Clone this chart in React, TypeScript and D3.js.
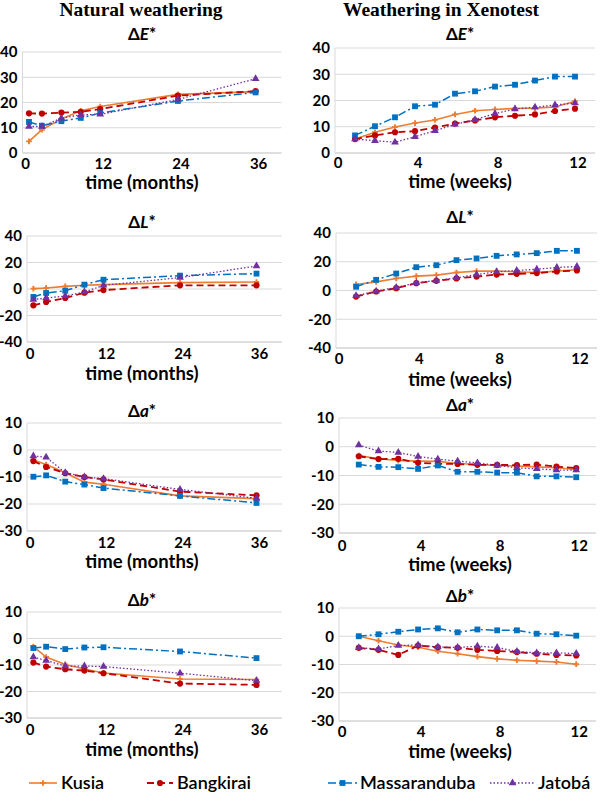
import React from "react";
import * as d3 from "d3";

const seriesNames = ["Kusia", "Bangkirai", "Massaranduba", "Jatobá"];
const months = [1, 3, 6, 9, 12, 24, 36];
const weeks = [1, 2, 3, 4, 5, 6, 7, 8, 9, 10, 11, 12];
const monthTicks = [0, 12, 24, 36];
const weekTicks = [0, 4, 8, 12];
const ticksE = [0, 10, 20, 30, 40];
const ticksL = [-40, -20, 0, 20, 40];
const ticksAB = [-30, -20, -10, 0, 10];

// row order: Kusia, Bangkirai, Massaranduba, Jatobá
const natE = [
  [4.6, 9.2, 13.5, 16.7, 18.4, 23.2, 24.3],
  [15.7, 15.6, 16.0, 16.3, 17.4, 22.7, 24.5],
  [12.3, 10.8, 12.6, 13.9, 15.8, 20.6, 24.0],
  [10.5, 10.5, 13.8, 15.1, 15.3, 21.2, 29.4],
];
const xenoE = [
  [5.3, 7.9, 9.9, 11.4, 12.6, 14.7, 16.1, 16.6, 17.0, 17.1, 17.5, 19.7],
  [5.3, 6.7, 7.9, 8.3, 9.7, 11.2, 12.4, 13.6, 14.2, 14.7, 16.0, 16.9],
  [6.7, 10.2, 13.6, 17.8, 18.4, 22.6, 23.5, 25.3, 26.0, 27.6, 29.1, 29.1],
  [5.3, 4.7, 4.1, 6.2, 8.5, 10.9, 12.7, 15.0, 16.8, 17.4, 18.3, 19.0],
];
const natL = [
  [0.3, 0.8, 2.0, 2.8, 3.3, 4.8, 5.3],
  [-12.3, -9.8, -6.8, -2.8, -0.8, 2.8, 2.8],
  [-6.0, -3.0, -1.3, 3.3, 7.0, 10.1, 11.6],
  [-8.0, -6.8, -5.3, -2.3, 2.8, 8.6, 17.4],
];
const xenoL = [
  [4.2, 6.0, 8.4, 10.0, 10.7, 12.5, 13.5, 13.5, 13.0, 12.5, 13.5, 14.4],
  [-4.2, -0.7, 1.6, 5.1, 6.7, 8.4, 9.7, 11.1, 11.6, 12.1, 13.2, 13.9],
  [2.6, 7.4, 11.8, 16.2, 17.6, 21.1, 22.3, 24.1, 25.1, 26.0, 27.6, 27.6],
  [-3.7, -0.5, 2.1, 5.3, 7.0, 8.8, 11.1, 13.0, 13.9, 14.8, 16.0, 16.7],
];
const natA = [
  [-3.7, -5.4, -8.4, -11.9, -12.7, -17.0, -18.0],
  [-4.1, -6.3, -8.6, -10.0, -10.9, -15.4, -16.8],
  [-9.9, -9.4, -11.7, -12.8, -14.1, -17.0, -19.6],
  [-2.2, -2.7, -8.4, -10.0, -10.6, -14.6, -17.9],
];
const xenoA = [
  [-3.1, -4.2, -4.8, -5.0, -5.1, -5.8, -6.2, -6.5, -6.7, -7.0, -7.3, -7.9],
  [-3.3, -4.3, -4.2, -5.6, -5.9, -6.0, -6.3, -6.3, -6.4, -6.2, -6.9, -7.4],
  [-6.2, -7.0, -7.1, -7.7, -6.5, -8.7, -8.7, -9.0, -9.0, -10.3, -10.3, -10.6],
  [0.6, -1.5, -2.0, -3.4, -4.3, -5.0, -5.6, -6.5, -7.3, -7.7, -8.1, -8.1],
];
const natB = [
  [-3.1, -7.0, -9.8, -11.5, -13.0, -15.3, -15.5],
  [-9.1, -10.6, -11.6, -12.1, -13.1, -17.0, -17.5],
  [-3.6, -3.1, -4.0, -3.4, -3.3, -4.9, -7.4],
  [-7.0, -8.3, -10.4, -10.4, -10.6, -13.1, -15.9],
];
const xenoB = [
  [0.0, -1.6, -3.1, -3.9, -5.3, -6.2, -7.2, -8.0, -8.5, -8.8, -9.1, -9.9],
  [-4.1, -4.8, -6.6, -3.3, -3.9, -4.1, -4.8, -5.2, -5.6, -6.2, -6.6, -6.8],
  [0.0, 0.7, 1.6, 2.4, 2.8, 1.4, 2.4, 2.1, 2.1, 0.9, 0.7, 0.2],
  [-4.1, -4.5, -3.3, -3.1, -3.8, -4.0, -3.5, -4.0, -5.4, -5.9, -5.9, -6.1],
];

const styles = [
  { color: "#ED7D31", dash: "", width: 1.6, marker: d3.symbolCross, size: 18 },
  { color: "#C00000", dash: "7 4", width: 1.8, marker: d3.symbolCircle, size: 30 },
  { color: "#0070C0", dash: "8 3 2 3", width: 1.5, marker: d3.symbolSquare, size: 34 },
  { color: "#7030A0", dash: "1.5 2", width: 1.3, marker: d3.symbolTriangle, size: 26 },
];

const FONT = "Lato, 'Open Sans', sans-serif";

// plot boxes (pixels) per panel
const panels = [
  { letter: "E", values: natE, natural: true, yTicks: ticksE, left: 22.5, right: 281.5, top: 52, bottom: 153, titleY: 40, tickY: 169, labelY: 189 },
  { letter: "E", values: xenoE, natural: false, yTicks: ticksE, left: 335, right: 595, top: 48, bottom: 153, titleY: 40, tickY: 168, labelY: 188 },
  { letter: "L", values: natL, natural: true, yTicks: ticksL, left: 27, right: 282, top: 236, bottom: 342, titleY: 228, tickY: 359, labelY: 380 },
  { letter: "L", values: xenoL, natural: false, yTicks: ticksL, left: 336, right: 597, top: 233, bottom: 348, titleY: 223, tickY: 364, labelY: 386 },
  { letter: "a", values: natA, natural: true, yTicks: ticksAB, left: 27, right: 282, top: 423, bottom: 531, titleY: 417, tickY: 548, labelY: 568 },
  { letter: "a", values: xenoA, natural: false, yTicks: ticksAB, left: 339, right: 596, top: 418, bottom: 533, titleY: 411, tickY: 551, labelY: 571 },
  { letter: "b", values: natB, natural: true, yTicks: ticksAB, left: 27, right: 282, top: 612, bottom: 718, titleY: 606, tickY: 735, labelY: 756 },
  { letter: "b", values: xenoB, natural: false, yTicks: ticksAB, left: 339, right: 596, top: 608, bottom: 721, titleY: 602, tickY: 737, labelY: 758 },
];

const ChartPanel = ({ p }: { p: (typeof panels)[number] }) => {
  const xs = p.natural ? months : weeks;
  const x = d3
    .scaleLinear()
    .domain(p.natural ? [0, 40] : [0, 13])
    .range([p.left, p.right]);
  const y = d3
    .scaleLinear()
    .domain(d3.extent(p.yTicks) as [number, number])
    .range([p.bottom, p.top]);
  const xTicks = p.natural ? monthTicks : weekTicks;
  const titleX = p.natural ? 142 : 460;
  const line = d3
    .line<number>()
    .x((_, i) => x(xs[i]))
    .y((d) => y(d));
  const [x0, x1] = x.range();

  return (
    <g>
      <text x={titleX} y={p.titleY} textAnchor="middle" fontFamily={FONT} fontWeight="bold" fontSize={17}>
        Δ<tspan fontStyle="italic">{p.letter}</tspan>*
      </text>
      {p.yTicks.map((t, i) => (
        <g key={t}>
          <line
            x1={x0}
            x2={x1}
            y1={y(t)}
            y2={y(t)}
            stroke={i === 0 ? "#bfbfbf" : "#d9d9d9"}
            strokeWidth={1}
          />
          <text x={x0 - 5} y={y(t)} dy="0.36em" textAnchor="end" fontFamily={FONT} fontWeight="bold" fontSize={15}>
            {t}
          </text>
        </g>
      ))}
      <line x1={x0} x2={x0} y1={p.top} y2={p.bottom} stroke="#d9d9d9" />
      {xTicks.map((t) => (
        <text key={t} x={x(t) + 3} y={p.tickY} textAnchor="middle" fontFamily={FONT} fontWeight="bold" fontSize={15}>
          {t}
        </text>
      ))}
      <text x={titleX} y={p.labelY} textAnchor="middle" fontFamily={FONT} fontWeight="bold" fontSize={18.5}>
        {p.natural ? "time (months)" : "time (weeks)"}
      </text>
      {p.values.map((vals, s) => {
        const st = styles[s];
        const sym = d3.symbol().type(st.marker).size(st.size)();
        return (
          <g key={s}>
            <path
              d={line(vals) || ""}
              fill="none"
              stroke={st.color}
              strokeWidth={st.width}
              strokeDasharray={st.dash || undefined}
            />
            {vals.map((v, i) => (
              <path key={i} d={sym || ""} transform={`translate(${x(xs[i])},${y(v)})`} fill={st.color} />
            ))}
          </g>
        );
      })}
    </g>
  );
};

const legendItems = [
  { x1: 29, x2: 57, tx: 61 },
  { x1: 147, x2: 173, tx: 177 },
  { x1: 328, x2: 357, tx: 360 },
  { x1: 490, x2: 535, tx: 538 },
];

export default function App() {
  return (
    <svg
      width={600}
      height={792}
      style={{ position: "absolute", left: 0, top: 0, background: "#fff" }}
    >
      <text x={141} y={16} textAnchor="middle" fontFamily="'Liberation Serif', serif" fontWeight="bold" fontSize={19.5}>
        Natural weathering
      </text>
      <text x={441} y={16} textAnchor="middle" fontFamily="'Liberation Serif', serif" fontWeight="bold" fontSize={19.5}>
        Weathering in Xenotest
      </text>
      {panels.map((p, i) => (
        <ChartPanel key={i} p={p} />
      ))}
      {seriesNames.map((name, s) => {
        const st = styles[s];
        const it = legendItems[s];
        const sym = d3.symbol().type(st.marker).size(st.size)();
        return (
          <g key={name}>
            <line
              x1={it.x1}
              x2={it.x2}
              y1={783}
              y2={783}
              stroke={st.color}
              strokeWidth={st.width}
              strokeDasharray={st.dash || undefined}
            />
            <path d={sym || ""} transform={`translate(${(it.x1 + it.x2) / 2},783)`} fill={st.color} />
            <text x={it.tx} y={789} fontFamily={FONT} fontSize={18} fontWeight={600}>
              {name}
            </text>
          </g>
        );
      })}
    </svg>
  );
}
